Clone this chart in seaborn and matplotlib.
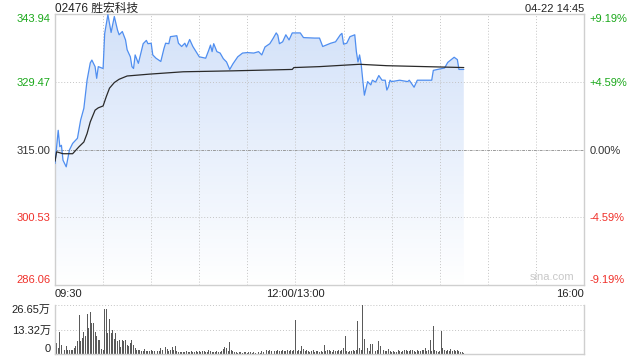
import numpy as np
import matplotlib
matplotlib.use("Agg")
import matplotlib.pyplot as plt
import seaborn as sns
import pandas as pd

# ---------------- data ----------------
title = "02476 胜宏科技"
stamp = "04-22 14:45"
prev_close = 315.00
price_ticks = [286.06, 300.53, 315.00, 329.47, 343.94]
price_tick_labels = ["286.06", "300.53", "315.00", "329.47", "343.94"]
pct_labels = ["-9.19%", "-4.59%", "0.00%", "+4.59%", "+9.19%"]
tick_colors = ["#f0302a", "#f0302a", "#333333", "#1aa81a", "#1aa81a"]
x_tick_pos = [0, 150, 330]
x_tick_labels = ["09:30", "12:00/13:00", "16:00"]
vol_ticks = [0, 13.32, 26.65]
vol_tick_labels = ["0", "13.32万", "26.65万"]

# minutes since 09:30 (lunch break removed)
price_min = [0, 2, 3, 4, 5, 7, 9, 11, 14, 16, 18, 20, 22, 23, 25, 26, 27, 30, 31, 33,
             35, 37, 39, 40, 42, 44, 45, 47, 48, 49, 50, 52, 53, 55, 57, 58, 60, 61, 63, 66,
             68, 69, 71, 72, 76, 77, 79, 81, 82, 84, 86, 88, 90, 94, 96, 97, 98, 99, 101, 103,
             105, 107, 109, 111, 114, 117, 120, 124, 127, 129, 131, 134, 136, 138, 139, 140, 142, 144, 146, 148,
             153, 155, 162, 165, 167, 172, 175, 178, 179, 180, 182, 184, 187, 188, 189, 190, 191, 192, 193, 195,
             197, 198, 200, 202, 204, 206, 207, 208, 209, 210, 215, 220, 221, 224, 226, 235, 236, 240, 243, 245,
             249, 251, 252, 255]
price_val = [312.0, 319.1, 315.6, 315.9, 312.7, 311.3, 314.9, 316.3, 317.4, 321.3, 323.8, 329.8, 333.5, 334.1, 332.7, 330.2, 332.7, 332.3, 339.8, 343.8,
             340.0, 343.4, 340.5, 339.5, 340.2, 338.4, 336.3, 334.8, 332.7, 332.3, 335.2, 333.4, 334.8, 337.6, 338.3, 337.6, 337.7, 335.2, 334.5, 333.8,
             336.6, 337.7, 337.6, 339.1, 339.3, 337.7, 337.0, 337.7, 336.9, 338.5, 337.0, 335.9, 334.8, 334.5, 336.3, 337.3, 335.9, 337.6, 335.9, 335.6,
             334.4, 333.7, 332.1, 333.3, 334.8, 335.6, 335.7, 335.6, 335.9, 335.2, 336.9, 337.6, 338.7, 339.9, 339.4, 337.6, 338.0, 339.5, 338.4, 339.9,
             339.9, 338.9, 338.8, 338.8, 337.0, 337.7, 338.0, 339.5, 339.8, 337.5, 337.7, 339.1, 339.5, 335.9, 333.7, 335.2, 333.2, 329.8, 326.6, 329.5,
             328.8, 329.8, 329.4, 330.8, 329.8, 329.8, 327.7, 328.4, 329.8, 329.5, 329.8, 329.5, 329.8, 328.3, 329.8, 329.8, 331.9, 332.2, 332.4, 333.6,
             334.7, 334.2, 332.1, 332.1]

avg_min = [0, 1, 5, 11, 15, 18, 20, 22, 25, 27, 30, 32, 34, 37, 40, 45, 59, 80, 111, 148,
           149, 165, 190, 207, 255]
avg_val = [312.5, 314.5, 314.1, 314.1, 315.6, 316.6, 318.4, 320.9, 323.4, 323.9, 324.3, 326.3, 328.1, 329.3, 330.0, 330.7, 331.1, 331.6, 331.8, 332.1,
           332.5, 332.7, 333.2, 332.9, 332.5]

# volume per minute, in 万 shares
volume = [14.1, 6.0, 3.0, 11.8, 5.1, 7.4, 2.4, 4.2, 2.0, 2.0,
          2.0, 2.4, 3.3, 4.2, 6.9, 21.4, 6.9, 8.7, 11.8, 9.6,
          21.9, 14.1, 22.8, 16.9, 16.9, 11.8, 9.6, 7.4, 7.4, 2.7,
          2.4, 24.7, 24.5, 11.4, 19.0, 11.4, 12.9, 8.2, 11.4, 6.9,
          7.4, 3.8, 7.4, 6.9, 7.4, 5.1, 4.5, 6.0, 7.8, 5.1,
          3.3, 2.4, 2.0, 2.4, 1.5, 1.8, 2.7, 1.5, 1.8, 1.5,
          2.4, 1.8, 1.5, 2.4, 1.5, 1.8, 3.0, 2.4, 1.5, 3.8,
          2.7, 1.8, 2.4, 3.8, 2.0, 4.2, 1.5, 1.2, 1.0, 1.2,
          1.0, 1.2, 1.5, 1.0, 1.2, 1.5, 1.0, 1.2, 1.5, 1.0,
          1.5, 1.2, 1.8, 1.5, 1.0, 1.2, 2.0, 1.5, 1.2, 1.0,
          1.2, 1.5, 1.0, 1.2, 1.5, 2.7, 3.8, 3.3, 1.5, 6.3,
          2.0, 1.5, 1.2, 1.0, 0.8, 1.0, 1.2, 0.8, 1.0, 1.2,
          0.8, 1.0, 1.2, 0.8, 1.0, 0.8, 1.2, 1.0, 0.8, 1.5,
          1.2, 4.5, 2.0, 1.5, 2.4, 1.5, 2.0, 1.8, 1.5, 2.0,
          1.8, 1.5, 2.4, 1.8, 1.5, 2.0, 1.8, 2.4, 1.5, 2.0,
          18.7, 1.5, 2.0, 1.5, 4.2, 2.7, 1.5, 2.0, 1.5, 1.2,
          1.5, 2.0, 1.2, 1.5, 1.8, 1.2, 1.5, 1.0, 5.1, 1.5,
          2.0, 2.4, 1.5, 1.2, 2.4, 1.5, 1.8, 2.4, 1.5, 2.0,
          3.0, 9.6, 1.5, 1.2, 1.8, 1.5, 2.0, 1.5, 2.4, 17.8,
          3.0, 2.4, 26.6, 8.2, 7.8, 3.0, 1.5, 5.6, 5.6, 2.0,
          1.5, 2.4, 7.3, 4.2, 2.0, 2.4, 1.5, 1.8, 2.7, 1.5,
          1.2, 1.5, 1.0, 1.2, 2.0, 1.5, 1.2, 1.8, 2.4, 2.0,
          1.5, 1.8, 2.0, 2.4, 1.5, 1.2, 2.0, 1.5, 1.8, 2.4,
          2.0, 3.3, 1.5, 2.4, 7.8, 1.5, 15.4, 2.0, 1.5, 1.2,
          1.8, 12.3, 3.3, 2.0, 1.5, 2.4, 1.8, 2.7, 1.5, 2.0,
          1.8, 2.4, 1.5, 1.2, 1.0, 0.8]

# ---------------- style ----------------
sns.set_theme(style="white")
plt.rcParams["font.family"] = ["Liberation Sans", "Noto Sans CJK SC", "DejaVu Sans"]
plt.rcParams["axes.unicode_minus"] = False

fig = plt.figure(figsize=(6.4, 3.6), dpi=100)
W, H = 640.0, 360.0
L, R = 55 / W, 584 / W
ax = fig.add_axes([L, 1 - 285 / H, R - L, (285 - 14) / H])
axv = fig.add_axes([L, 1 - 354 / H, R - L, (354 - 305) / H])

ymin, ymax = price_ticks[0], price_ticks[-1]
xmax = x_tick_pos[-1]

price_df = pd.DataFrame({"t": price_min, "p": price_val})
avg_df = pd.DataFrame({"t": avg_min, "p": avg_val})

# gradient fill under the price line
poly = ax.fill_between(price_df["t"], price_df["p"], ymin, facecolor="none", edgecolor="none")
grad = np.linspace(0, 1, 256).reshape(-1, 1)
top_c = np.array([210, 225, 249]) / 255
bot_c = np.array([255, 255, 255]) / 255
img = top_c * (1 - grad[..., None]) + bot_c * grad[..., None]
img = img.reshape(256, 1, 3)
im = ax.imshow(img, extent=[0, max(price_min), ymin, ymax], origin="upper",
               aspect="auto", zorder=1)
im.set_clip_path(poly.get_paths()[0], transform=ax.transData)

# grid lines (drawn over the fill, as in the reference)
for v in range(30, xmax, 30):
    ax.axvline(v, color="#c4c4c4", lw=0.7, ls=(0, (1, 2)), zorder=2)
for v in [price_ticks[1], price_ticks[3]]:
    ax.axhline(v, color="#c4c4c4", lw=0.7, ls=(0, (1, 2)), zorder=2)
ax.axhline(prev_close, color="#9a9a9a", lw=0.7, ls=(0, (3, 1, 1, 1)), zorder=2)

sns.lineplot(data=price_df, x="t", y="p", ax=ax, color="#4f8ef0", lw=0.9, zorder=3)
sns.lineplot(data=avg_df, x="t", y="p", ax=ax, color="#2a2a2a", lw=0.9, zorder=4)

ax.set_xlim(0, xmax)
ax.set_ylim(ymin, ymax)
ax.set_xlabel("")
ax.set_ylabel("")
for s in ax.spines.values():
    s.set_color("#cfcfcf")
    s.set_linewidth(1.0)

ax.set_yticks(price_ticks)
ax.set_yticklabels(price_tick_labels, fontsize=8)
ax.tick_params(axis="y", length=0, pad=3)
for lab, c in zip(ax.get_yticklabels(), tick_colors):
    lab.set_color(c)
ax.get_yticklabels()[0].set_verticalalignment("bottom")
ax.get_yticklabels()[-1].set_verticalalignment("top")

ax.set_xticks(x_tick_pos)
ax.set_xticklabels(x_tick_labels, fontsize=8, color="#222222")
ax.tick_params(axis="x", length=0, pad=3)
xl = ax.get_xticklabels()
xl[0].set_horizontalalignment("left")
xl[-1].set_horizontalalignment("right")

ax2 = ax.twinx()
ax2.set_ylim(ymin, ymax)
ax2.set_yticks(price_ticks)
ax2.set_yticklabels(pct_labels, fontsize=8)
ax2.tick_params(axis="y", length=0, pad=4)
for lab, c in zip(ax2.get_yticklabels(), tick_colors):
    lab.set_color(c)
ax2.get_yticklabels()[0].set_verticalalignment("bottom")
ax2.get_yticklabels()[-1].set_verticalalignment("top")
for s in ax2.spines.values():
    s.set_visible(False)
ax2.grid(False)

ytop = 1 + 2.5 / 271
ax.text(0, ytop, title, transform=ax.transAxes, ha="left", va="baseline",
        fontsize=8.5, color="#222222")
ax.text(1, ytop, stamp, transform=ax.transAxes, ha="right", va="baseline",
        fontsize=8, color="#222222")
ax.text(0.94, 0.012, "sina.com", transform=ax.transAxes, ha="center", va="bottom",
        fontsize=8, color="#c8c8c8")

# ---------------- volume ----------------
vol_df = pd.DataFrame({"t": np.arange(len(volume)), "v": volume})
sns.histplot(data=vol_df, x="t", weights="v", discrete=True, shrink=0.6,
             ax=axv, color="#5a5a5a", alpha=1.0, edgecolor="none", linewidth=0)
axv.set_xlim(0, xmax)
axv.set_ylim(0, vol_ticks[-1])
axv.set_xlabel("")
axv.set_ylabel("")
axv.set_xticks([])
for v in vol_ticks[1:]:
    axv.axhline(v, color="#c4c4c4", lw=0.7, ls=(0, (1, 2)), zorder=0.5)
axv.spines["top"].set_visible(False)
for k in ["left", "right", "bottom"]:
    axv.spines[k].set_color("#cfcfcf")
    axv.spines[k].set_linewidth(1.0)
axv.set_yticks(vol_ticks)
axv.set_yticklabels(vol_tick_labels, fontsize=8, color="#222222")
axv.tick_params(axis="y", length=0, pad=3)
vl = axv.get_yticklabels()
vl[0].set_verticalalignment("bottom")
vl[-1].set_verticalalignment("top")

fig.savefig("out.png", dpi=100)
